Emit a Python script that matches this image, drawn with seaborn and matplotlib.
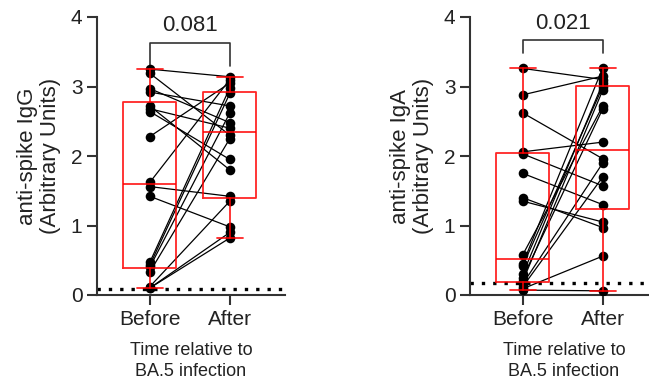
import numpy as np
import pandas as pd
import matplotlib
matplotlib.use("Agg")
import matplotlib.pyplot as plt
import seaborn as sns

# paired values per subject
times = ["Before", "After"]

igg_before = [3.25, 3.19, 2.97, 2.92, 2.72, 2.68, 2.64, 2.28, 1.62, 1.56, 1.42,
              0.47, 0.43, 0.40, 0.33, 0.12, 0.10, 0.10]
igg_after = [3.14, 2.30, 2.48, 2.72, 1.80, 2.40, 1.95, 3.05, 3.10, 1.42, 0.98,
             2.98, 2.90, 2.62, 2.25, 1.35, 0.90, 0.82]

iga_before = [3.26, 2.88, 2.62, 2.06, 2.03, 1.75, 1.40, 1.35, 0.58, 0.45, 0.42,
              0.30, 0.25, 0.20, 0.16, 0.12, 0.09, 0.07]
iga_after = [3.10, 3.15, 1.96, 2.20, 1.57, 1.30, 0.97, 1.05, 2.72, 3.27, 3.00,
             3.05, 2.68, 2.95, 1.90, 1.70, 0.56, 0.06]

igg_p = "0.081"
iga_p = "0.021"
igg_lod = 0.09
iga_lod = 0.17


def long_table(before, after):
    n = len(before)
    df = pd.DataFrame({
        "subject": list(range(n)) * 2,
        "time": [times[0]] * n + [times[1]] * n,
        "value": list(before) + list(after),
    })
    df["pos"] = df["time"].map({times[0]: 0, times[1]: 1})
    return df


def box_stats(values, label):
    # Prism style quartiles
    q1, med, q3 = np.percentile(values, [25, 50, 75], method="weibull")
    return dict(label=label, med=med, q1=q1, q3=q3,
                whislo=min(values), whishi=max(values), fliers=[])


def draw_panel(ax, before, after, ylab, pval, lod, leg_low, bar_y, text_y):
    df = long_table(before, after)

    # limit of detection
    ax.axhline(lod, color="black", lw=2.4, ls=(0, (1, 2.4)), zorder=1)

    sns.lineplot(data=df, x="pos", y="value", units="subject", estimator=None,
                 color="black", lw=0.9, ax=ax, legend=False, zorder=2)
    sns.scatterplot(data=df, x="pos", y="value", color="black", s=48,
                    linewidth=0, ax=ax, legend=False, zorder=3)

    red = dict(color="red", lw=1.3, alpha=0.85)
    ax.bxp([box_stats(before, times[0]), box_stats(after, times[1])],
           positions=[0, 1], widths=0.66, showfliers=False,
           boxprops=red, whiskerprops=red, capprops=red, medianprops=red,
           manage_ticks=False, zorder=4)

    # significance bracket
    ax.plot([0, 0, 1, 1], [leg_low, bar_y, bar_y, leg_low], color="#333333",
            lw=1.2, clip_on=False)
    ax.text(0.5, text_y, pval, ha="center", va="bottom", fontsize=16,
            color="#222222")

    ax.set_xlim(-0.66, 1.69)
    ax.set_ylim(0, 4)
    ax.set_yticks([0, 1, 2, 3, 4])
    ax.set_xticks([0, 1], labels=times)
    ax.set_ylabel(ylab, fontsize=16, labelpad=7, linespacing=1.1,
                  color="#222222")
    ax.set_xlabel("Time relative to\nBA.5 infection", fontsize=13,
                  labelpad=10, linespacing=1.3, color="#222222")
    ax.tick_params(axis="both", length=7, width=1.5, labelsize=15,
                   color="#333333", labelcolor="#222222")
    sns.despine(ax=ax)
    for s in ["left", "bottom"]:
        ax.spines[s].set_linewidth(1.5)
        ax.spines[s].set_color("#333333")


sns.set_style("ticks")
plt.rcParams["font.family"] = ["Liberation Sans", "DejaVu Sans"]

fig = plt.figure(figsize=(6.49, 3.88), dpi=100)
ax1 = fig.add_axes([97 / 649, 93 / 388, 188 / 649, 278 / 388])
ax2 = fig.add_axes([470 / 649, 93 / 388, 188 / 649, 278 / 388])

draw_panel(ax1, igg_before, igg_after, "anti-spike IgG\n(Arbitrary Units)",
           igg_p, igg_lod, 3.30, 3.62, 3.72)
draw_panel(ax2, iga_before, iga_after, "anti-spike IgA\n(Arbitrary Units)",
           iga_p, iga_lod, 3.48, 3.67, 3.76)

fig.savefig("out.png", dpi=100)
